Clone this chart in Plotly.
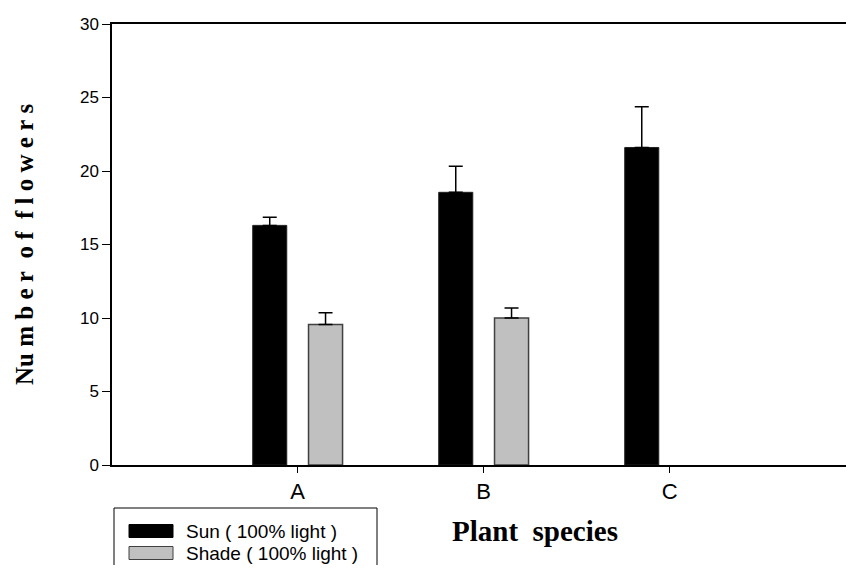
import plotly.graph_objects as go

# ---- data ----
species = ["A", "B", "C"]
sun_means = [16.3, 18.55, 21.6]
sun_err = [0.55, 1.77, 2.77]
shade_means = [9.55, 10.0, None]
shade_err = [0.8, 0.68, None]
series_names = ["Sun ( 100% light )", "Shade ( 100% light )"]
y_ticks = [0, 5, 10, 15, 20, 25, 30]

# page has an 8px body margin; figure sized to fit without scrollbars
OFF = 8
W, H = 838, 557
ML, MR, MT, MB = 104, 0, 16, 100
PW, PH = W - ML - MR, H - MT - MB


def px_x(x):  # page pixel -> paper x
    return (x - OFF - ML) / PW


def px_y(y):  # page pixel -> paper y
    return (H - MB - (y - OFF)) / PH


xpos = list(range(len(species)))

fig = go.Figure()
fig.add_trace(go.Bar(
    x=xpos, y=sun_means, name=series_names[0],
    marker=dict(color="#000000", line=dict(color="#202020", width=1)),
    error_y=dict(type="data", array=sun_err, arrayminus=[0] * 3, symmetric=False,
                 color="#000000", thickness=1.5, width=7),
    showlegend=False,
))
fig.add_trace(go.Bar(
    x=xpos, y=shade_means, name=series_names[1],
    marker=dict(color="#c0c0c0", line=dict(color="#404040", width=1.5)),
    error_y=dict(type="data", array=shade_err, arrayminus=[0] * 3, symmetric=False,
                 color="#000000", thickness=1.5, width=7),
    showlegend=False,
))

font_sans = "Liberation Sans, Arial, sans-serif"
font_serif = "Liberation Serif, Times New Roman, serif"

fig.update_layout(
    width=W, height=H,
    margin=dict(l=ML, r=MR, t=MT, b=MB, pad=0),
    paper_bgcolor="white", plot_bgcolor="white",
    barmode="group", bargap=0.40, bargroupgap=0.39,
    xaxis=dict(
        range=[-0.998, 2.948], tickmode="array", tickvals=xpos, ticktext=species,
        showline=True, linecolor="black", linewidth=1.5, mirror=True,
        ticks="outside", ticklen=6, tickcolor="black", tickwidth=1,
        showgrid=False, zeroline=False,
        tickfont=dict(family=font_sans, size=22, color="black"),
    ),
    yaxis=dict(
        range=[0, 30], tickmode="array", tickvals=y_ticks,
        showline=True, linecolor="black", linewidth=1.5,
        ticks="outside", ticklen=8, tickcolor="black", tickwidth=1,
        showgrid=False, zeroline=False,
        tickfont=dict(family=font_sans, size=17, color="black"),
    ),
)

nb = "\u00a0"
ytitle = nb.join(["Nu", "m", "b", "e", "r", "", "o", "f", "", "f", "l", "o", "w", "e", "r", "s"])
annotations = [
    dict(text="<b>" + ytitle + "</b>", xref="paper", yref="paper",
         x=px_x(25), y=px_y(245), textangle=-90, showarrow=False,
         xanchor="center", yanchor="middle",
         font=dict(family=font_serif, size=25, color="black")),
    dict(text="<b>Plant" + nb + nb + "species</b>", xref="paper", yref="paper",
         x=px_x(535), y=px_y(531), showarrow=False,
         xanchor="center", yanchor="middle",
         font=dict(family=font_serif, size=29, color="black")),
]

# custom legend
shapes = [
    dict(type="rect", xref="paper", yref="paper",
         x0=px_x(114), x1=px_x(377), y0=px_y(508), y1=px_y(600),
         line=dict(color="black", width=1), fillcolor="rgba(0,0,0,0)"),
]
legend_rows = [(531, "#000000", "#000000"), (553, "#c0c0c0", "#404040")]
for (yc, fill, edge), name in zip(legend_rows, series_names):
    shapes.append(dict(type="rect", xref="paper", yref="paper",
                       x0=px_x(129), x1=px_x(173), y0=px_y(yc - 6.5), y1=px_y(yc + 6.5),
                       line=dict(color=edge, width=1), fillcolor=fill))
    annotations.append(dict(text=name, xref="paper", yref="paper",
                            x=px_x(184), y=px_y(yc), showarrow=False,
                            xanchor="left", yanchor="middle",
                            font=dict(family=font_sans, size=19, color="black")))

fig.update_layout(shapes=shapes, annotations=annotations)

fig.write_html("out.html")
